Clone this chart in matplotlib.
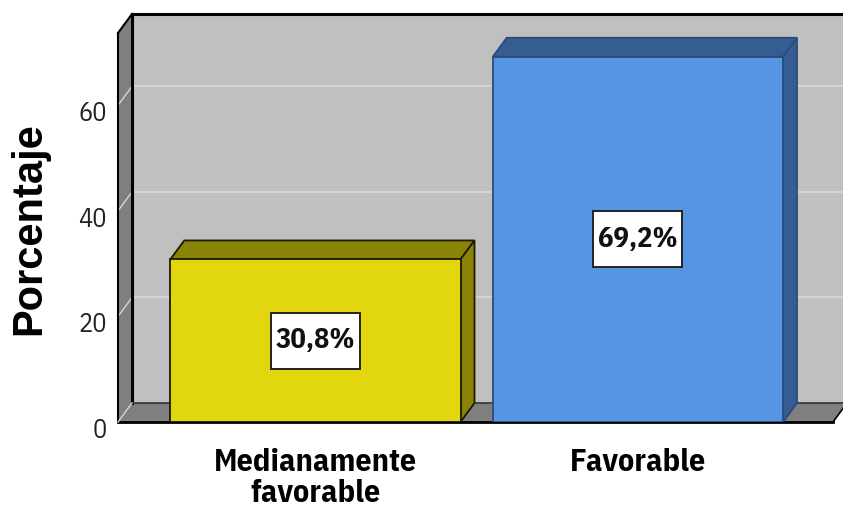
import matplotlib
matplotlib.use("Agg")
import matplotlib.pyplot as plt
from matplotlib.patches import Polygon, Rectangle
from matplotlib import font_manager
import matplotlib.transforms as mtransforms

# data
categories = ["Medianamente\nfavorable", "Favorable"]
values = [30.8, 69.2]
value_labels = ["30,8%", "69,2%"]
yticks = [0, 20, 40, 60]

# colours (front face, top/side face, outline)
face_colors = ["#e2d60f", "#5595e3"]
shade_colors = ["#8b8307", "#355d92"]
edge_colors = ["#1a1a00", "#2c4c78"]

WALL = "#c0c0c0"
SIDE = "#7f7f7f"
GRID = "#d6d6d6"

# pick a narrow font, whatever is there
names = {f.name for f in font_manager.fontManager.ttflist}
NARROW = "DejaVu Sans"
for cand in ["Liberation Sans Narrow", "Arial Narrow", "IBM Plex Sans Condensed",
             "Fira Sans Condensed"]:
    if cand in names:
        NARROW = cand
        break

W, H = 843, 509
fig = plt.figure(figsize=(W / 100, H / 100), dpi=100)
ax = fig.add_axes([118 / W, (H - 422) / H, (W - 118) / W, (422 - 14) / H])

x0, x1 = -0.612, 1.636
ytop = 77.3
ax.set_xlim(x0, x1)
ax.set_ylim(0, ytop)
ax.set_frame_on(False)

dx = 14 / 322.5      # depth in x (data units)
dy = 19 / 5.28       # depth in y (data units)
bw = 0.9

# back wall
ax.add_patch(Polygon([(x0 + dx, dy), (x1 + 1, dy), (x1 + 1, ytop), (x0 + dx, ytop)],
                     closed=True, fc=WALL, ec="none", zorder=0, clip_on=False))
# left wall
ax.add_patch(Polygon([(x0, 0), (x0 + dx, dy), (x0 + dx, ytop), (x0, ytop - dy)],
                     closed=True, fc=SIDE, ec="none", zorder=1, clip_on=False))
# floor
fr = 1.605
ax.add_patch(Polygon([(x0, 0), (fr, 0), (fr + dx, dy), (x0 + dx, dy)],
                     closed=True, fc=SIDE, ec="none", zorder=1, clip_on=False))

# grid lines on back wall and left wall
for t in yticks[1:]:
    ax.plot([x0 + dx, x1 + 1], [t + dy, t + dy], color=GRID, lw=1.3, zorder=0.5, clip_on=False)
    ax.plot([x0, x0 + dx], [t, t + dy], color=GRID, lw=1.0, zorder=1.5, clip_on=False)

# frame outlines
ax.plot([x0 + dx, x1 + 1], [ytop, ytop], color="black", lw=2.2, zorder=2, clip_on=False)
ax.plot([x0 + dx, x0 + dx], [dy, ytop], color="black", lw=2.2, zorder=2, clip_on=False)
ax.plot([x0, x0 + dx], [ytop - dy, ytop], color="black", lw=1.5, zorder=2, clip_on=False)
ax.plot([x0, x0], [0, ytop - dy], color="black", lw=1.5, zorder=2, clip_on=False)
ax.plot([x0 + dx, fr + dx], [dy, dy], color="#333333", lw=1.2, zorder=2, clip_on=False)
ax.plot([x0, fr], [0, 0], color="black", lw=2.0, zorder=2, clip_on=False)
ax.plot([fr, fr + dx], [0, dy], color="black", lw=1.2, zorder=2, clip_on=False)
ax.plot([x0, x0 + dx], [0, dy], color=GRID, lw=1.0, zorder=2, clip_on=False)

# bars
xs = list(range(len(values)))
bars = ax.bar(xs, values, width=bw, color=face_colors, edgecolor=edge_colors,
              linewidth=1.3, zorder=4)
for b, sc, ec in zip(bars, shade_colors, edge_colors):
    l, r, h = b.get_x(), b.get_x() + b.get_width(), b.get_height()
    ax.add_patch(Polygon([(l, h), (r, h), (r + dx, h + dy), (l + dx, h + dy)],
                         closed=True, fc=sc, ec=ec, lw=1.3, zorder=3))
    ax.add_patch(Polygon([(r, 0), (r + dx, dy), (r + dx, h + dy), (r, h)],
                         closed=True, fc=sc, ec=ec, lw=1.3, zorder=3))

# value labels in white boxes (box size in pixels around the bar middle)
bw_px, bh_px = 89, 56
for x, v, lab in zip(xs, values, value_labels):
    tr = mtransforms.IdentityTransform() + mtransforms.ScaledTranslation(x, v / 2, ax.transData)
    ax.add_patch(Rectangle((-bw_px / 2, -bh_px / 2), bw_px, bh_px, transform=tr,
                           fc="white", ec="#222222", lw=1.4, zorder=5, clip_on=False))
    ax.text(x, v / 2, lab, ha="center", va="center", fontsize=20.5, fontweight="bold",
            family=NARROW, stretch="condensed", color="#111111", zorder=6)

# axes ticks
ax.set_yticks(yticks)
ax.set_yticklabels([str(t) for t in yticks], family=NARROW, stretch="condensed",
                   fontsize=19, color="#222222")
ax.tick_params(axis="y", length=0, pad=8)
for lab in ax.get_yticklabels():
    lab.set_transform(lab.get_transform() + mtransforms.ScaledTranslation(0, -6 / 100, fig.dpi_scale_trans))

ax.set_xticks(xs)
ax.set_xticklabels(categories, family=NARROW, stretch="condensed", fontsize=23,
                   fontweight="bold", linespacing=1.08, va="top")
ax.tick_params(axis="x", length=0, pad=19)

fig.text(29 / W, 1 - 229 / H, "Porcentaje", rotation=90, ha="center", va="center",
         fontsize=30, fontweight="bold", family="Liberation Sans")

fig.savefig("out.png", dpi=100)
